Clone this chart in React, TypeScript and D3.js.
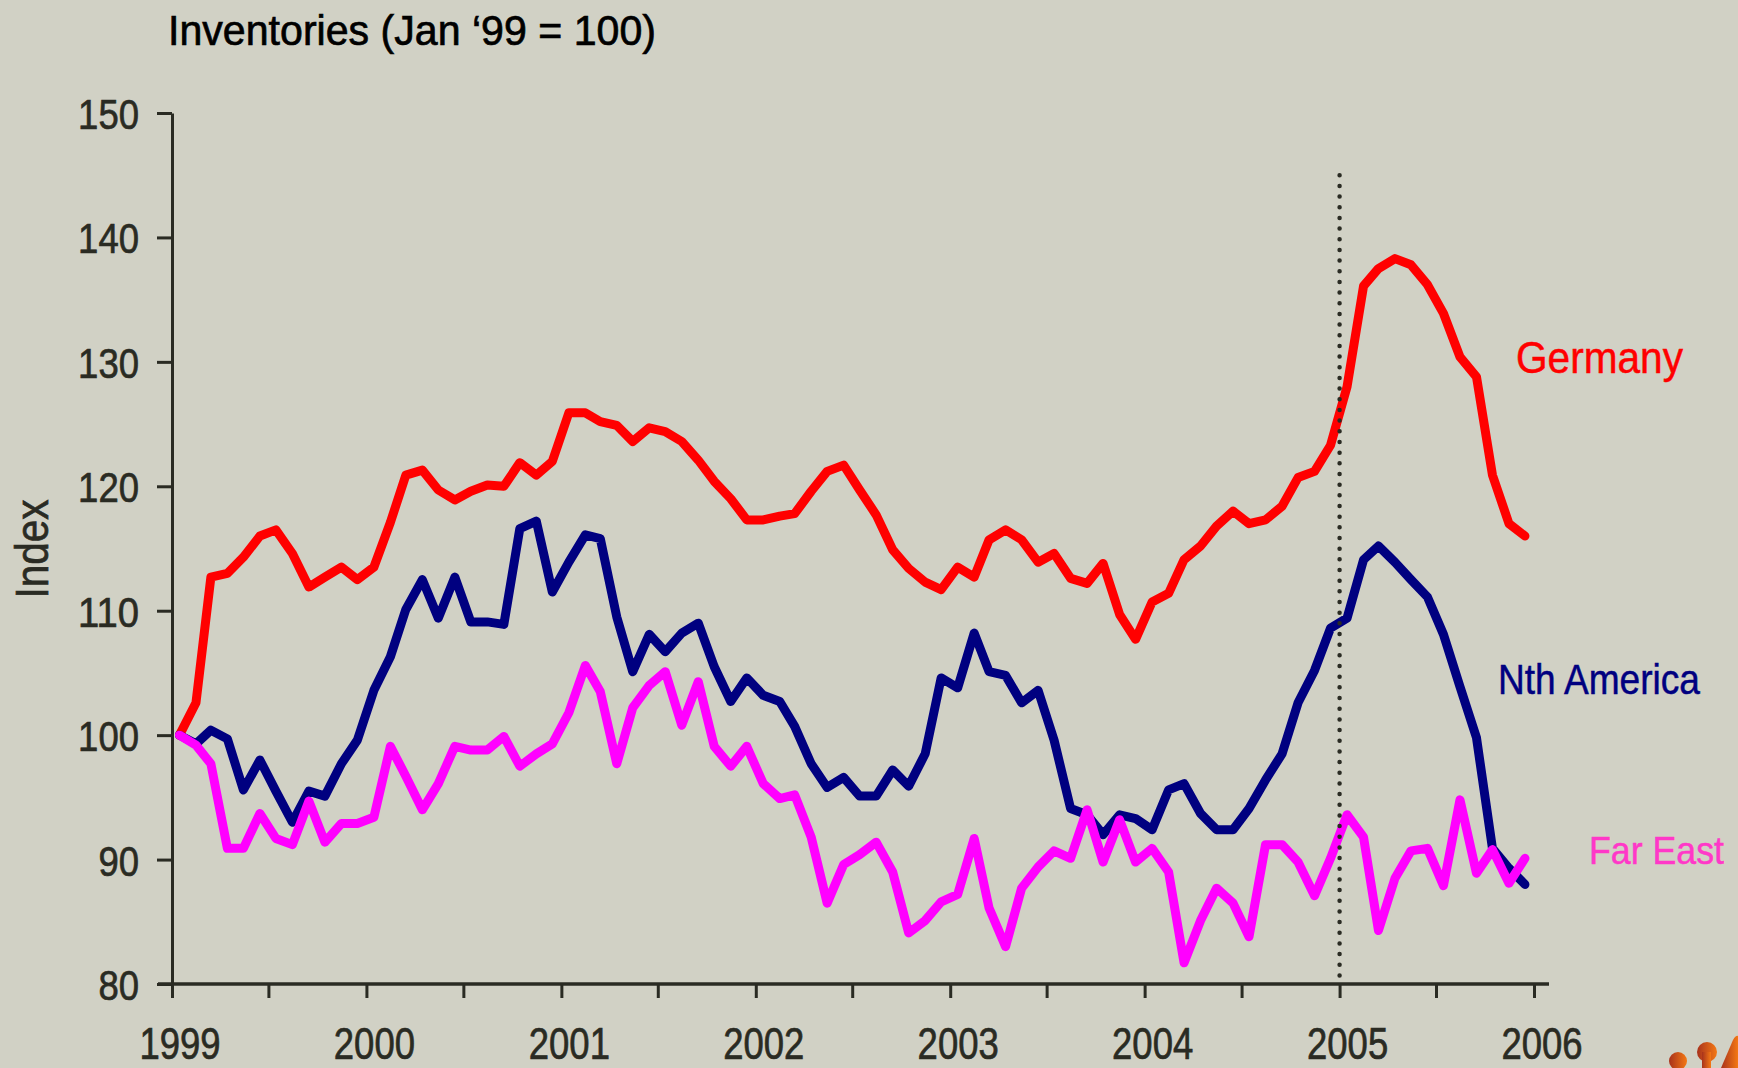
import React, { useEffect, useRef } from 'react';
import * as d3 from 'd3';

// MONTHLY INVENTORY INDEX (JAN '99 = 100), JAN 1999 - DEC 2005
const germany = [
  100.0, 102.6, 112.7, 113.0, 114.3, 116.0, 116.5, 114.6, 111.9, 112.7, 113.5, 112.5,
  113.5, 117.1, 120.9, 121.3, 119.7, 118.9, 119.6, 120.1, 120.0, 121.9, 120.9, 122.0,
  125.9, 125.9, 125.2, 124.9, 123.6, 124.7, 124.4, 123.6, 122.1, 120.4, 119.0, 117.3,
  117.3, 117.6, 117.8, 119.6, 121.2, 121.7, 119.7, 117.7, 114.9, 113.4, 112.3, 111.7,
  113.5, 112.7, 115.7, 116.5, 115.7, 113.9, 114.6, 112.6, 112.2, 113.8, 109.7, 107.7,
  110.7, 111.4, 114.1, 115.2, 116.8, 118.0, 117.0, 117.3, 118.4, 120.7, 121.2, 123.3,
  128.0, 136.1, 137.5, 138.3, 137.8, 136.2, 133.9, 130.4, 128.8, 120.9, 117.0, 116.0,
];

const nthAmerica = [
  100.0, 99.3, 100.4, 99.7, 95.6, 98.0, 95.5, 93.0, 95.5, 95.1, 97.7, 99.6,
  103.6, 106.3, 110.1, 112.5, 109.4, 112.7, 109.1, 109.1, 108.9, 116.6, 117.2, 111.5,
  113.9, 116.1, 115.8, 109.5, 105.1, 108.1, 106.7, 108.2, 109.0, 105.5, 102.7, 104.6,
  103.2, 102.7, 100.7, 97.7, 95.8, 96.6, 95.1, 95.1, 97.2, 95.9, 98.5, 104.6,
  103.8, 108.2, 105.1, 104.8, 102.6, 103.6, 99.6, 94.1, 93.6, 92.0, 93.6, 93.3,
  92.4, 95.6, 96.1, 93.7, 92.4, 92.4, 94.1, 96.4, 98.5, 102.6, 105.2, 108.6,
  109.4, 114.1, 115.2, 113.9, 112.5, 111.1, 108.1, 103.9, 99.8, 90.9, 89.3, 88.0,
];

const farEast = [
  100.0, 99.2, 97.7, 90.9, 90.9, 93.7, 91.7, 91.2, 94.7, 91.4, 92.9, 92.9,
  93.4, 99.1, 96.7, 94.0, 96.1, 99.1, 98.8, 98.8, 99.9, 97.5, 98.5, 99.3,
  101.8, 105.6, 103.5, 97.7, 102.2, 104.0, 105.1, 100.8, 104.3, 99.1, 97.5, 99.1,
  96.1, 94.9, 95.2, 91.8, 86.5, 89.6, 90.4, 91.4, 89.0, 84.1, 85.1, 86.6,
  87.2, 91.7, 86.1, 83.0, 87.7, 89.4, 90.7, 90.1, 94.0, 89.8, 93.2, 89.8,
  90.9, 89.0, 81.7, 85.1, 87.7, 86.5, 83.8, 91.2, 91.2, 89.8, 87.1, 90.1,
  93.6, 91.8, 84.3, 88.5, 90.7, 90.9, 87.9, 94.8, 88.9, 90.8, 88.1, 90.1,
];

const yTicks = [80, 90, 100, 110, 120, 130, 140, 150];
const yearTicks = [1999, 2000, 2001, 2002, 2003, 2004, 2005, 2006];
const markerYear = 2005;

// narrow look: Liberation Sans squeezed with textLength
const FONT = "'Liberation Sans', Arial, sans-serif";
const DIGIT_W = 20.3;
const BG = '#d1d1c5';
const INK = '#2a2b23';

function InventoriesChart() {
  const ref = useRef<SVGSVGElement>(null);

  useEffect(() => {
    document.body.style.margin = '0';
    document.body.style.background = BG;

    const width = 1738, height = 1068;
    const svg = d3.select(ref.current);
    svg.selectAll('*').remove();

    //BACKGROUND
    svg.append('rect').attr('width', width).attr('height', height).attr('fill', BG);

    //SCALES
    const x = d3.scaleTime()
      .domain([new Date(yearTicks[0], 0, 1), new Date(yearTicks[yearTicks.length - 1], 0, 1)])
      .range([172, 1534]);
    const y = d3.scaleLinear()
      .domain([yTicks[0], yTicks[yTicks.length - 1]])
      .range([984, 113]);

    // points sit mid-month
    const months = d3.timeMonth
      .range(new Date(1999, 0, 1), new Date(2006, 0, 1))
      .map(d => d3.timeDay.offset(d, 14));

    //Y AXIS
    const yAxis = svg.append('g')
      .attr('transform', `translate(${x.range()[0]},0)`)
      .call(d3.axisLeft(y).tickValues(yTicks).tickSize(15).tickSizeOuter(0).tickPadding(18));
    yAxis.attr('font-family', FONT).attr('font-size', 43).attr('color', INK);
    yAxis.select('.domain').attr('stroke-width', 3);
    yAxis.selectAll('.tick line').attr('stroke-width', 3);
    yAxis.selectAll<SVGTextElement, unknown>('.tick text')
      .attr('dy', '0.36em')
      .attr('stroke', 'currentColor').attr('stroke-width', 0.7)
      .attr('lengthAdjust', 'spacingAndGlyphs')
      .attr('textLength', function () { return (this.textContent || '').length * DIGIT_W; });

    //X AXIS (TICKS EVERY HALF YEAR, LABELS ON YEARS)
    const halfYears: Date[] = [];
    yearTicks.forEach((yr, i) => {
      halfYears.push(new Date(yr, 0, 1));
      if (i < yearTicks.length - 1) halfYears.push(new Date(yr, 6, 1));
    });
    const xAxis = svg.append('g')
      .attr('transform', `translate(0,${y.range()[0]})`)
      .call(d3.axisBottom(x).tickValues(halfYears).tickSize(14).tickSizeOuter(0)
        .tickFormat((d: any) => (d.getMonth() === 0 ? String(d.getFullYear()) : '')));
    xAxis.attr('font-family', FONT).attr('font-size', 44).attr('color', INK);
    xAxis.select('.domain').remove();
    xAxis.selectAll('.tick line').attr('stroke-width', 3);
    xAxis.selectAll<SVGTextElement, unknown>('.tick text')
      .attr('y', 75).attr('dy', null).attr('dx', 7.5)
      .attr('stroke', 'currentColor').attr('stroke-width', 0.7)
      .attr('lengthAdjust', 'spacingAndGlyphs')
      .attr('textLength', function () {
        const n = (this.textContent || '').length;
        return n ? n * DIGIT_W : null;
      });
    xAxis.append('line')
      .attr('x1', x.range()[0] - 14).attr('x2', x.range()[1] + 15)
      .attr('stroke', INK).attr('stroke-width', 3.5);

    //SERIES LINES
    const line = d3.line<number>()
      .x((d, i) => x(months[i]))
      .y(d => y(d));

    const series = [
      { values: germany, color: '#ff0000' },
      { values: nthAmerica, color: '#000080' },
      { values: farEast, color: '#ff00ff' },
    ];
    series.forEach(s => {
      svg.append('path')
        .datum(s.values)
        .attr('fill', 'none')
        .attr('stroke', s.color)
        .attr('stroke-width', 9)
        .attr('stroke-linejoin', 'round')
        .attr('stroke-linecap', 'round')
        .attr('d', line);
    });

    //DOTTED MARKER AT 2005
    const mx = x(new Date(markerYear, 0, 1));
    svg.append('line')
      .attr('x1', mx).attr('x2', mx)
      .attr('y1', y(145)).attr('y2', y.range()[0])
      .attr('stroke', INK)
      .attr('stroke-width', 4.5)
      .attr('stroke-linecap', 'round')
      .attr('stroke-dasharray', '0 10.67');

    //TITLE
    svg.append('text')
      .attr('x', 168).attr('y', 45)
      .attr('font-family', FONT).attr('font-size', 42)
      .attr('textLength', 488).attr('lengthAdjust', 'spacingAndGlyphs')
      .attr('fill', '#000').attr('stroke', '#000').attr('stroke-width', 0.7)
      .text('Inventories (Jan \u201899 = 100)');

    //Y LABEL
    svg.append('text')
      .attr('transform', 'translate(48,549) rotate(-90)')
      .attr('text-anchor', 'middle')
      .attr('font-family', FONT).attr('font-size', 46)
      .attr('textLength', 99).attr('lengthAdjust', 'spacingAndGlyphs')
      .attr('fill', INK).attr('stroke', INK).attr('stroke-width', 0.7)
      .text('Index');

    //SERIES LABELS
    const labels = [
      { text: 'Germany', x: 1516, y: 373, size: 45, len: 167, color: '#ff0000' },
      { text: 'Nth America', x: 1498, y: 694, size: 43, len: 202, color: '#000080' },
      { text: 'Far East', x: 1589, y: 864, size: 38.5, len: 135, color: '#ff38c8' },
    ];
    labels.forEach(l => {
      svg.append('text')
        .attr('x', l.x).attr('y', l.y)
        .attr('font-family', FONT).attr('font-size', l.size)
        .attr('textLength', l.len).attr('lengthAdjust', 'spacingAndGlyphs')
        .attr('fill', l.color).attr('stroke', l.color).attr('stroke-width', 0.5)
        .text(l.text);
    });

    //LOGO FRAGMENT, BOTTOM RIGHT
    const grad = svg.append('defs').append('linearGradient')
      .attr('id', 'logo-grad').attr('x1', '0%').attr('x2', '100%');
    grad.append('stop').attr('offset', '0%').attr('stop-color', '#a8321c');
    grad.append('stop').attr('offset', '100%').attr('stop-color', '#f47814');
    const logo = svg.append('g').attr('fill', 'url(#logo-grad)');
    logo.append('circle').attr('cx', 1678).attr('cy', 1061).attr('r', 9);
    logo.append('circle').attr('cx', 1707).attr('cy', 1052).attr('r', 10);
    logo.append('rect').attr('x', 1702).attr('y', 1052).attr('width', 9).attr('height', 16);
    logo.append('path').attr('d', 'M1721,1068 L1733,1040 Q1736,1035 1738,1036 L1738,1068 Z');
  }, []);

  return <svg ref={ref} width={1738} height={1068} style={{ display: 'block' }} />;
}

export default function App() {
  return <InventoriesChart />;
}
